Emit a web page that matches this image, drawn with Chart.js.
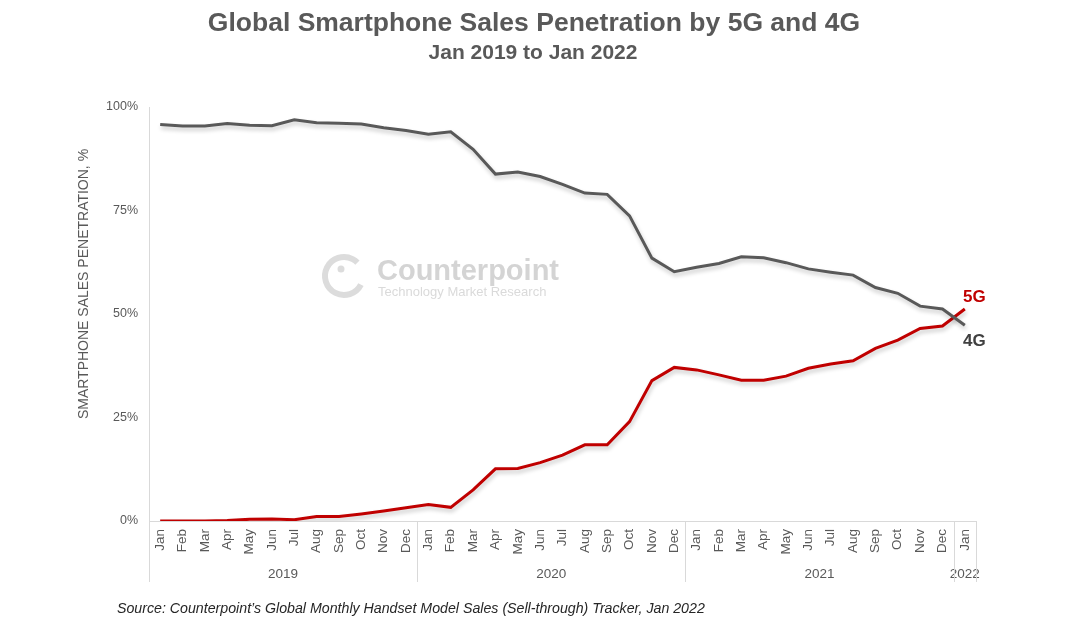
<!DOCTYPE html>
<html lang="en">
<head>
  <meta charset="UTF-8" />
  <title>Global Smartphone Sales Penetration by 5G and 4G</title>
  <script src="https://cdn.jsdelivr.net/npm/chart.js"></script>
  <style>
    html, body { margin: 0; padding: 0; background: #fff; }
    #wrap { width: 1080px; height: 635px; position: relative; }
  </style>
</head>
<body>
  <div id="wrap"><canvas id="chart" width="1080" height="635"></canvas></div>

  <script>
    const months = ['Jan','Feb','Mar','Apr','May','Jun','Jul','Aug','Sep','Oct','Nov','Dec',
                    'Jan','Feb','Mar','Apr','May','Jun','Jul','Aug','Sep','Oct','Nov','Dec',
                    'Jan','Feb','Mar','Apr','May','Jun','Jul','Aug','Sep','Oct','Nov','Dec',
                    'Jan'];
    const years = ['2019', '2020', '2021', '2022'];
    const yearSpans = [12, 12, 12, 1];

    const share4G = [95.8, 95.4, 95.4, 96.0, 95.6, 95.5, 96.9, 96.2, 96.1, 95.9, 95.0, 94.3,
                     93.4, 94.0, 89.8, 83.8, 84.3, 83.2, 81.3, 79.2, 78.9, 73.7, 63.5, 60.2,
                     61.3, 62.2, 63.8, 63.6, 62.4, 60.9, 60.1, 59.4, 56.4, 55.0, 51.9, 51.2,
                     47.3];
    const share5G = [0.0, 0.0, 0.0, 0.1, 0.4, 0.5, 0.3, 1.1, 1.1, 1.7, 2.4, 3.2,
                     4.0, 3.3, 7.5, 12.6, 12.7, 14.1, 15.9, 18.4, 18.4, 24.0, 33.9, 37.1,
                     36.5, 35.3, 34.0, 34.0, 35.0, 36.9, 37.9, 38.7, 41.7, 43.7, 46.5, 47.1,
                     51.2];
    const yTicks = ['0%', '25%', '50%', '75%', '100%'];

    const FONT = "'Liberation Sans', Arial, sans-serif";
    const GREY = '#595959';

    // titles, watermark, year row, series labels, source line
    const decorations = {
      id: 'decorations',
      beforeDatasetsDraw(chart) {
        const ctx = chart.ctx;
        ctx.save();
        // watermark
        ctx.strokeStyle = '#dcdcdc';
        ctx.lineWidth = 6;
        ctx.beginPath();
        ctx.arc(344, 276, 19, 0.15 * Math.PI, 1.75 * Math.PI);
        ctx.stroke();
        ctx.fillStyle = '#dcdcdc';
        ctx.beginPath();
        ctx.arc(341, 269, 3.5, 0, 2 * Math.PI);
        ctx.fill();
        ctx.fillStyle = '#d4d4d4';
        ctx.font = 'bold 29px ' + FONT;
        ctx.textBaseline = 'alphabetic';
        ctx.fillText('Counterpoint', 377, 280);
        ctx.fillStyle = '#dadada';
        ctx.font = '13px ' + FONT;
        ctx.fillText('Technology Market Research', 378, 296);
        ctx.restore();
      },
      afterDraw(chart) {
        const ctx = chart.ctx;
        const x = chart.scales.x;
        const area = chart.chartArea;
        ctx.save();

        ctx.fillStyle = GREY;
        ctx.textAlign = 'center';
        ctx.textBaseline = 'middle';
        ctx.font = 'bold 26.5px ' + FONT;
        ctx.fillText('Global Smartphone Sales Penetration by 5G and 4G', 534, 24);
        ctx.font = 'bold 21px ' + FONT;
        ctx.fillText('Jan 2019 to Jan 2022', 533, 53);

        // y axis title
        ctx.save();
        ctx.translate(84, 284);
        ctx.rotate(-Math.PI / 2);
        ctx.font = '14px ' + FONT;
        ctx.fillText('SMARTPHONE SALES PENETRATION, %', 0, 0);
        ctx.restore();

        // year grouping row
        ctx.strokeStyle = '#d9d9d9';
        ctx.lineWidth = 1;
        const rowBottom = 582;
        let start = 0;
        const edges = [area.left];
        yearSpans.forEach((span, i) => {
          const first = x.getPixelForValue(start);
          const last = x.getPixelForValue(start + span - 1);
          ctx.font = '13.5px ' + FONT;
          ctx.fillStyle = GREY;
          ctx.fillText(years[i], (first + last) / 2, 574);
          start += span;
          edges.push(start < months.length ? (last + x.getPixelForValue(start)) / 2 : area.right);
        });
        edges.forEach(px => {
          ctx.beginPath();
          ctx.moveTo(Math.round(px) + 0.5, area.bottom);
          ctx.lineTo(Math.round(px) + 0.5, rowBottom);
          ctx.stroke();
        });

        // series end labels
        ctx.textAlign = 'left';
        ctx.font = 'bold 17px ' + FONT;
        ctx.fillStyle = '#c00000';
        ctx.fillText('5G', 963, 297);
        ctx.fillStyle = '#404040';
        ctx.fillText('4G', 963, 341);

        // source
        ctx.font = 'italic 14.2px ' + FONT;
        ctx.fillStyle = '#262626';
        ctx.fillText('Source: Counterpoint\u2019s Global Monthly Handset Model Sales (Sell-through) Tracker, Jan 2022', 117, 609);
        ctx.restore();
      }
    };

    // soft drop shadow under the lines
    const lineShadow = {
      id: 'lineShadow',
      beforeDatasetDraw(chart) {
        const ctx = chart.ctx;
        ctx.save();
        ctx.shadowColor = 'rgba(0,0,0,0.22)';
        ctx.shadowBlur = 4;
        ctx.shadowOffsetX = 1;
        ctx.shadowOffsetY = 3;
      },
      afterDatasetDraw(chart) {
        chart.ctx.restore();
      }
    };

    new Chart(document.getElementById('chart'), {
      type: 'line',
      data: {
        labels: months,
        datasets: [
          {
            label: '4G',
            data: share4G,
            borderColor: '#595959',
            borderWidth: 3,
            pointRadius: 0,
            tension: 0
          },
          {
            label: '5G',
            data: share5G,
            borderColor: '#c00000',
            borderWidth: 3,
            pointRadius: 0,
            tension: 0
          }
        ]
      },
      options: {
        responsive: false,
        animation: false,
        events: [],
        layout: { padding: { top: 107, right: 104, bottom: 54, left: 70 } },
        plugins: {
          legend: { display: false },
          tooltip: { enabled: false }
        },
        scales: {
          x: {
            offset: true,
            grid: { display: false, drawTicks: false },
            border: { color: '#d9d9d9' },
            afterFit(scale) { scale.height = 60; },
            ticks: {
              color: GREY,
              font: { family: FONT, size: 13.5 },
              minRotation: 90,
              maxRotation: 90,
              autoSkip: false,
              padding: 8
            }
          },
          y: {
            min: 0,
            max: 100,
            grid: { display: false, drawTicks: false },
            border: { color: '#d9d9d9' },
            afterFit(scale) { scale.width = 79; },
            afterBuildTicks(scale) {
              scale.ticks = yTicks.map((t, i) => ({ value: i * 25 }));
            },
            ticks: {
              color: GREY,
              font: { family: FONT, size: 12.5 },
              padding: 11,
              callback: (v, i) => yTicks[i]
            }
          }
        }
      },
      plugins: [decorations, lineShadow]
    });
  </script>
</body>
</html>
